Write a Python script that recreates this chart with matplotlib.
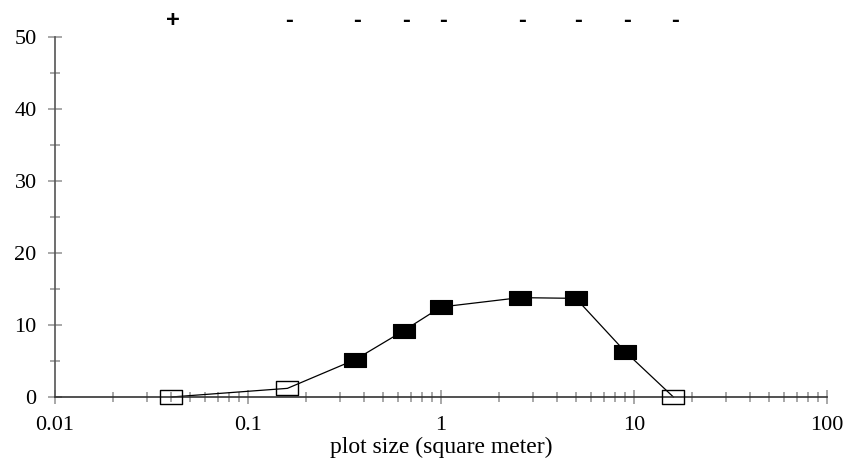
import numpy as np
import matplotlib.pyplot as plt
import matplotlib.transforms as mtransforms
from matplotlib.path import Path
from matplotlib.ticker import LogLocator, FixedLocator, FixedFormatter

# plot size (m2) and values
plot_size = [0.04, 0.16, 0.36, 0.64, 1.0, 2.56, 5.0, 9.0, 16.0]
value = [0.0, 1.2, 5.2, 9.2, 12.5, 13.8, 13.7, 6.3, 0.0]
filled = [False, False, True, True, True, True, True, True, False]
signs = ['+', '-', '-', '-', '-', '-', '-', '-', '-']

xticks = [0.01, 0.1, 1, 10, 100]
xticklabels = ['0.01', '0.1', '1', '10', '100']
yticks = [0, 10, 20, 30, 40, 50]

rect = Path([(-1, -0.6), (1, -0.6), (1, 0.6), (-1, 0.6), (-1, -0.6)],
            [Path.MOVETO, Path.LINETO, Path.LINETO, Path.LINETO, Path.CLOSEPOLY])

fig = plt.figure(figsize=(8.45, 4.67), dpi=100)
ax = fig.add_axes([55/845, (467-397)/467, (827-55)/845, (397-37)/467])

x = np.array(plot_size)
y = np.array(value)
f = np.array(filled)
ax.plot(x, y, color='black', lw=0.9, zorder=2, clip_on=False)
ax.plot(x[f], y[f], ls='none', marker=rect, ms=16, mfc='black', mec='black', mew=0.8,
        zorder=3, clip_on=False)
ax.plot(x[~f], y[~f], ls='none', marker=rect, ms=16, mfc='none', mec='black', mew=1.0,
        zorder=3, clip_on=False)

# +/- signs above the points, nudged a little to the right like the original
sign_tr = mtransforms.offset_copy(ax.get_xaxis_transform(), fig=fig, x=2, y=0, units='dots')
for xi, s in zip(plot_size, signs):
    ax.text(xi, 1.028, s, transform=sign_tr, ha='center', va='baseline',
            fontsize=17, fontweight='bold', family='Liberation Sans')

ax.set_xscale('log')
ax.set_xlim(0.01, 100)
ax.set_ylim(0, 50)

ax.xaxis.set_major_locator(FixedLocator(xticks))
ax.xaxis.set_major_formatter(FixedFormatter(xticklabels))
ax.xaxis.set_minor_locator(LogLocator(base=10, subs=np.arange(2, 10)))
ax.xaxis.set_minor_formatter(FixedFormatter([]))
ax.set_yticks(yticks)
ax.set_yticks([5, 15, 25, 35, 45], minor=True)

for sp in ['top', 'right']:
    ax.spines[sp].set_visible(False)
ax.spines['left'].set_color('#555555')
ax.spines['bottom'].set_color('#333333')
ax.spines['left'].set_linewidth(1.2)
ax.spines['bottom'].set_linewidth(1.2)

ax.tick_params(which='major', direction='inout', length=9.5, width=1.2, color='#999999',
               labelsize=16)
ax.tick_params(which='minor', direction='inout', length=6.5, width=1.2, color='#999999')
ax.tick_params(axis='x', which='major', pad=9)
ax.tick_params(axis='y', which='major', pad=8.5)
for lab in ax.get_xticklabels() + ax.get_yticklabels():
    lab.set_family('Liberation Serif')

ax.set_xlabel('plot size (square meter)', family='Liberation Serif', fontsize=17, labelpad=1)

fig.savefig('out.png', dpi=100)
